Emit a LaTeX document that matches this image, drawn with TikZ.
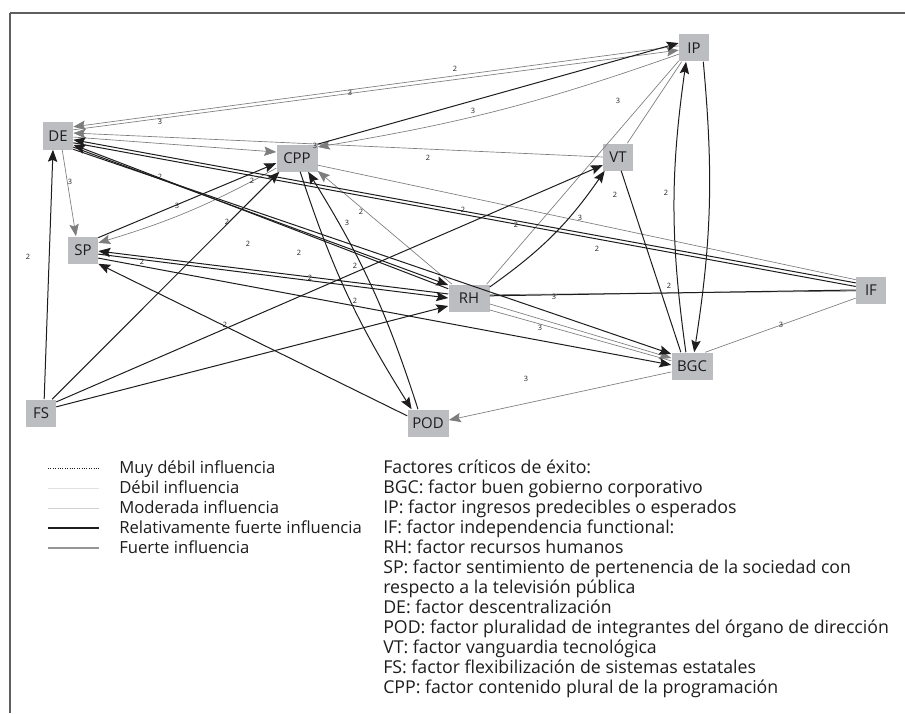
\documentclass[tikz,border=0pt]{standalone}
\usepackage{fontspec}
\setmainfont{Open Sans}
\usetikzlibrary{arrows.meta}
\definecolor{cajagris}{RGB}{188,189,193}
\definecolor{tinta}{RGB}{30,28,29}
\definecolor{lineagris}{RGB}{125,125,125}
\definecolor{marco}{RGB}{95,95,95}
\definecolor{gdebil}{RGB}{226,226,226}
\definecolor{gmoderada}{RGB}{208,208,208}
\definecolor{gfuerte}{RGB}{150,150,150}

\begin{document}
\begin{tikzpicture}[x=0.75pt,y=-0.75pt,
    factor/.style={fill=cajagris, text=tinta, minimum width=22.5pt, minimum height=20.25pt,
        inner sep=0pt, font=\fontsize{11.2}{12}\selectfont},
    ancho/.style={factor, minimum width=30.75pt},
    fuerte/.style={draw=lineagris, line width=0.5pt, -{Stealth[length=9pt,width=7pt,inset=1.5pt]}},
    relfuerte/.style={draw=tinta, line width=0.75pt, -{Stealth[length=9pt,width=7pt,inset=1.5pt]}},
    peso/.style={font=\fontsize{5.5}{6}\selectfont, text=tinta, inner sep=0pt},
    leyenda/.style={anchor=base west, font=\fontsize{12.5}{15}\selectfont, text=tinta, inner sep=0pt},
    factores/.style={leyenda, font=\fontsize{13.3}{15}\selectfont},
    muydebil/.style={draw=tinta, line width=0.5pt, dash pattern=on 0.6pt off 1.2pt},
    debil/.style={draw=gdebil, line width=0.6pt},
    moderada/.style={draw=gmoderada, line width=0.6pt},
    relativa/.style={draw=tinta, line width=0.9pt},
    fuertel/.style={draw=gfuerte, line width=0.8pt}]
\useasboundingbox (0,0) rectangle (905,713);

% marco
\draw[marco, line width=1.5pt] (905,13) -- (10,13);
\draw[marco, line width=0.9pt] (10,13) -- (10,713);

% factores
\node[factor] (DE) at (58,136) {DE};
\node[ancho] (CPP) at (297,158) {CPP};
\node[factor] (IP) at (694,48) {IP};
\node[factor] (VT) at (618,157) {VT};
\node[factor] (SP) at (83,250) {SP};
\node[ancho] (RH) at (469,298) {RH};
\node[factor] (IF) at (871,290) {IF};
\node[ancho] (BGC) at (692,366) {BGC};
\node[factor] (FS) at (41,413) {FS};
\node[ancho] (POD) at (428,423) {POD};

% fuerte influencia
\draw[fuerte] (IP.172) -- (DE.31);
\draw[fuerte] (DE.22) -- (IP.188);
\draw[fuerte] (IP.202) to[bend left=5] (CPP.28);
\draw[fuerte,-] (IP.228) -- (VT.56);
\draw[fuerte,-] (IP.220) -- (RH.38);
\draw[fuerte] (VT.180) -- (DE.11);
\draw[fuerte] (DE.356) -- (CPP.164);
\draw[fuerte] (DE.287) -- (SP.117);
\draw[fuerte] (CPP.206) to[bend left=6] (SP.25);
\draw[fuerte] (RH.141) -- (CPP.328);
\draw[fuerte,-] (IF.146) -- (CPP.341);
\draw[fuerte,-] (RH.9) -- (IF.184);
\draw[fuerte] (RH.344) -- (BGC.159);
\draw[fuerte,-] (RH.330) -- (BGC.166);
\draw[fuerte,-] (IF.208) -- (BGC.46);
\draw[fuerte] (BGC.196) -- (POD.8);

% relativamente fuerte influencia
\draw[relfuerte] (CPP.34) -- (IP.162);
\draw[relfuerte] (BGC.114) to[bend left=8] (IP.240);
\draw[relfuerte] (IP.304) to[bend left=7] (BGC.81);
\draw[relfuerte,-] (VT.283) -- (BGC.129);
\draw[relfuerte] (FS.77) -- (DE.250);
\draw[relfuerte] (FS.51) -- (CPP.218);
\draw[relfuerte] (FS.36) -- (VT.208);
\draw[relfuerte] (FS.22) -- (RH.201);
\draw[relfuerte] (SP.39) -- (CPP.194);
\draw[relfuerte] (SP.332) -- (BGC.177);
\draw[relfuerte] (RH.169) -- (SP.356);
\draw[relfuerte] (SP.345) -- (RH.180);
\draw[relfuerte] (POD.161) -- (SP.318);
\draw[relfuerte] (CPP.283) to[bend right=7] (POD.140);
\draw[relfuerte] (POD.126) to[bend right=7] (CPP.309);
\draw[relfuerte] (RH.28) to[bend right=10] (VT.226);
\draw[relfuerte,-] (RH.6) -- (IF.180);
\draw[relfuerte] (IF.155) -- (DE.346);
\draw[relfuerte,-] (DE.336) -- (IF.167);
\draw[relfuerte] (RH.156) -- (DE.330);
\draw[relfuerte] (DE.324) -- (RH.148);
\draw[relfuerte] (DE.319) -- (BGC.150);

% pesos
\foreach \x/\y/\n [count=\i] in {455/69/2, 350/93/3, 160/122/3, 473/111/3, 315/146/3,
    428/158/2, 618/101/3, 70/182/3, 160/177/2, 252/181/2, 177/206/3, 227/222/2,
    248/244/2, 299/253/2, 361/212/2, 347/223/3, 355/266/2, 310/278/2, 355/301/2,
    142/262/2, 28/257/2, 225/325/2, 463/210/2, 580/218/3, 516/225/2, 597/249/2,
    615/195/2, 666/193/2, 669/286/2, 554/297/3, 540/328/3, 781/325/3, 526/379/3}
    \node[peso] (peso\i) at (\x,\y) {\n};

% leyenda
\foreach \y/\estilo/\texto [count=\i] in {468/muydebil/Muy débil influencia,
    488/debil/Débil influencia, 508/moderada/Moderada influencia,
    528/relativa/Relativamente fuerte influencia, 548/fuertel/Fuerte influencia} {
    \draw[\estilo] (48,\y) -- (99,\y);
    \node[leyenda] (ley\i) at (119,\y+5) {\texto};
}

% factores criticos
\foreach \texto [count=\i from 0] in {Factores críticos de éxito:,
    BGC: factor buen gobierno corporativo,
    IP: factor ingresos predecibles o esperados,
    IF: factor independencia functional:,
    RH: factor recursos humanos,
    SP: factor sentimiento de pertenencia de la sociedad con,
    respecto a la televisión pública,
    DE: factor descentralización,
    POD: factor pluralidad de integrantes del órgano de dirección,
    VT: factor vanguardia tecnológica,
    FS: factor flexibilización de sistemas estatales,
    CPP: factor contenido plural de la programación}
    \node[factores] (fac\i) at (383,468+20*\i+5) {\texto};
\end{tikzpicture}
\end{document}
